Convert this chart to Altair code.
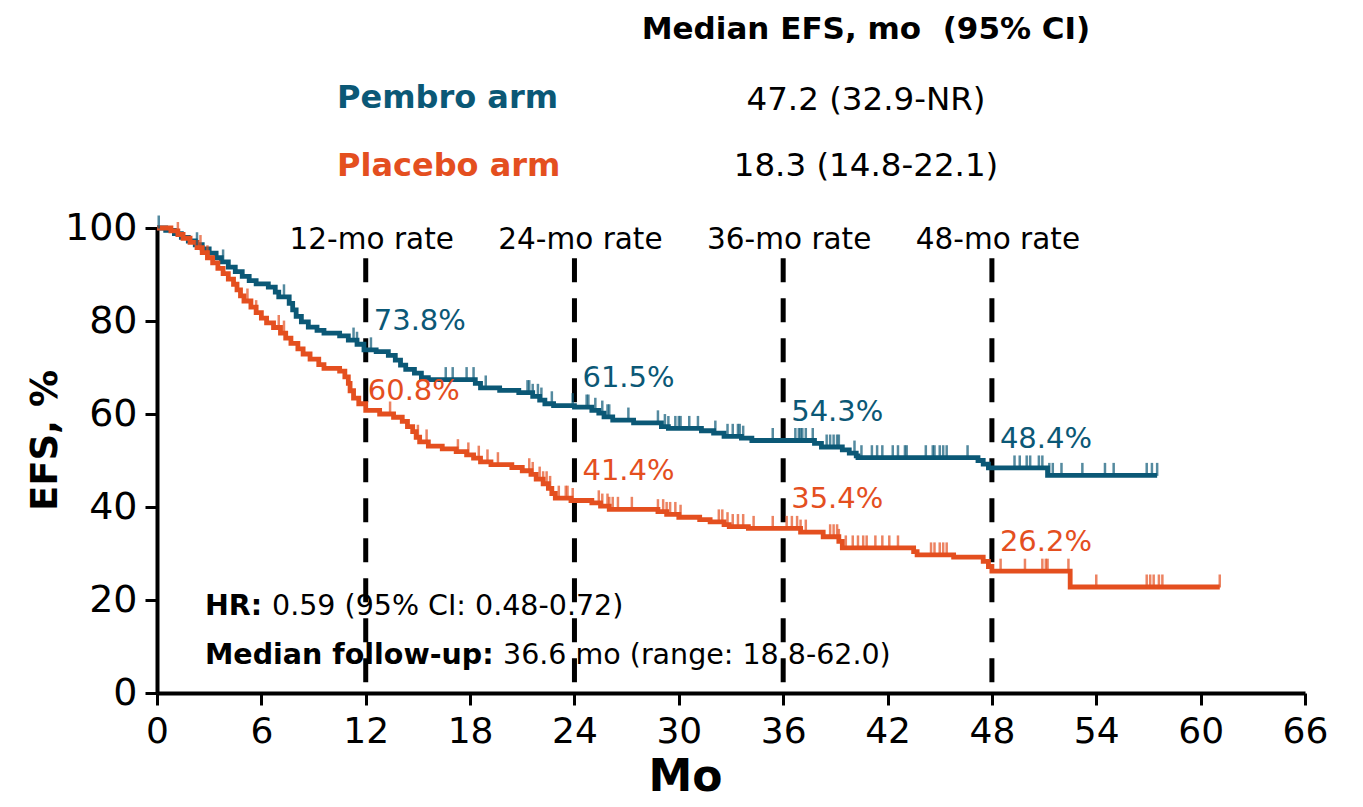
import bisect
import altair as alt
import pandas as pd

# ---------------- data ----------------
pembro_time = [0, 0.5, 1.0, 1.4, 1.8, 2.2, 2.6, 3.0, 3.4, 3.7, 4.1, 4.5, 4.9, 5.3, 5.7,
               6.4, 6.8, 7.0, 7.6, 7.8, 8.0, 8.3, 8.7, 9.2, 9.6, 10.5, 11.0, 11.5, 11.9, 12.6,
               13.3, 13.7, 14.0, 14.3, 14.8, 15.2, 15.6, 18.3, 18.6, 19.7, 20.8, 21.6, 22.0, 22.3, 22.8,
               24.0, 25.0, 25.4, 25.7, 26.2, 27.4, 29.0, 29.4, 31.3, 32.0, 32.6, 33.6, 34.2, 37.8, 38.2,
               39.4, 39.8, 40.2, 40.3, 47.2, 47.5, 47.8, 51.2]
pembro_surv = [100, 99.5, 98.8, 98.0, 97.2, 96.4, 95.5, 94.6, 93.6, 92.7, 91.6, 90.6, 89.6, 88.7, 88.0,
               87.3, 86.2, 85.2, 83.8, 82.4, 81.0, 79.8, 78.7, 78.0, 77.4, 76.8, 75.9, 75.0, 73.8, 73.4,
               72.6, 71.6, 70.5, 69.6, 68.8, 67.8, 67.4, 66.6, 65.6, 65.1, 64.6, 63.8, 63.0, 62.2, 61.8,
               61.5, 60.8, 60.2, 59.4, 58.7, 58.1, 57.3, 56.9, 56.4, 55.9, 55.2, 54.8, 54.3, 53.7, 52.9,
               52.3, 51.6, 51.0, 50.6, 50.0, 49.2, 48.4, 46.8]
pembro_end = 57.5
pembro_censor = [0.1, 2.3, 3.8, 7.3, 11.3, 11.5, 12.3, 16.6, 17.0, 17.8, 18.2, 18.9, 21.3, 21.4, 21.6,
                 21.9, 22.1, 22.7, 23.9, 24.7, 24.8, 25.2, 25.6, 25.9, 26.0, 27.1, 28.8, 29.2, 29.4, 29.8,
                 30.0, 30.1, 30.6, 31.1, 32.1, 32.8, 33.1, 33.4, 33.5, 33.7, 35.4, 36.7, 36.9, 37.0, 37.1,
                 37.3, 37.7, 38.5, 38.7, 38.9, 39.1, 39.2, 40.1, 40.5, 41.1, 41.4, 41.7, 42.3, 42.6, 43.0,
                 43.1, 44.2, 44.6, 44.7, 45.0, 45.2, 45.4, 46.6, 49.3, 49.6, 50.0, 50.2, 50.7, 50.9, 51.3,
                 51.5, 52.0, 53.2, 54.5, 55.0, 56.9, 57.2, 57.5]

placebo_time = [0, 0.8, 1.2, 1.5, 1.9, 2.3, 2.6, 2.9, 3.2, 3.5, 3.8, 4.1, 4.4, 4.6, 4.8,
                5.0, 5.4, 5.7, 6.0, 6.3, 6.7, 7.1, 7.4, 7.7, 8.1, 8.4, 8.8, 9.3, 9.6, 10.5,
                10.8, 11.0, 11.1, 11.3, 11.6, 12.0, 12.8, 13.6, 14.1, 14.4, 14.7, 14.9, 15.1, 15.6, 16.4,
                17.2, 17.8, 18.2, 18.6, 19.2, 20.4, 21.0, 21.5, 21.8, 22.2, 22.5, 22.7, 22.9, 23.8, 25.0,
                25.5, 26.0, 28.8, 29.3, 30.0, 31.2, 31.8, 32.6, 32.9, 34.0, 37.0, 38.3, 39.2, 39.4, 43.5,
                43.7, 45.8, 47.5, 47.8, 48.0, 52.5]
placebo_surv = [100, 99.4, 98.6, 97.8, 96.9, 95.8, 94.7, 93.6, 92.5, 91.3, 90.2, 89.0, 87.9, 86.7, 85.4,
                84.3, 83.0, 81.8, 80.6, 79.6, 78.6, 77.4, 76.3, 75.2, 74.0, 72.9, 71.8, 70.6, 69.8, 69.2,
                68.0, 66.6, 65.0, 63.4, 62.2, 60.8, 60.0, 59.3, 58.4, 57.3, 56.2, 55.0, 54.0, 53.1, 52.5,
                51.9, 51.2, 50.5, 49.7, 49.1, 48.5, 47.8, 47.0, 46.0, 45.0, 44.0, 42.9, 41.9, 41.4, 40.9,
                40.2, 39.5, 39.0, 38.4, 37.8, 37.3, 36.8, 36.2, 35.8, 35.4, 34.6, 33.6, 32.6, 31.2, 30.4,
                29.7, 29.2, 28.3, 27.2, 26.2, 22.8]
placebo_end = 61.1
placebo_censor = [1.2, 2.5, 2.9, 5.2, 5.7, 7.0, 7.3, 13.4, 15.0, 15.5, 17.3, 17.9, 18.5, 19.0, 19.6,
                  21.4, 21.6, 22.0, 22.2, 22.4, 22.6, 23.1, 23.5, 23.6, 23.9, 25.4, 25.6, 25.9, 26.0, 26.2,
                  26.5, 27.3, 28.8, 29.1, 29.3, 29.5, 29.8, 30.1, 32.3, 32.5, 32.8, 33.1, 33.4, 33.7, 34.3,
                  35.4, 36.2, 36.5, 36.8, 37.0, 37.3, 38.7, 38.9, 39.1, 39.2, 39.6, 40.0, 40.3, 40.6, 40.8,
                  41.3, 41.7, 42.1, 42.6, 44.5, 44.7, 45.0, 45.2, 45.4, 48.5, 49.9, 50.9, 51.1, 51.2, 52.4,
                  54.0, 56.9, 57.1, 57.3, 57.6, 57.8, 61.1]

arms = ["Pembro arm", "Placebo arm"]
arm_colors = ["#0b5876", "#e44f1f"]

rate_months = [12, 24, 36, 48]
pembro_rates = [73.8, 61.5, 54.3, 48.4]
placebo_rates = [60.8, 41.4, 35.4, 26.2]

x_ticks = [0, 6, 12, 18, 24, 30, 36, 42, 48, 54, 60, 66]
y_ticks = [0, 20, 40, 60, 80, 100]

FONT = "DejaVu Sans"
W, H = 1148, 465

# ---------------- tables ----------------
def step_value(times, surv, t):
    i = bisect.bisect_right(times, t) - 1
    return surv[max(i, 0)]

rows = []
for arm, ts, ss, end in [(arms[0], pembro_time, pembro_surv, pembro_end),
                         (arms[1], placebo_time, placebo_surv, placebo_end)]:
    for t, s in zip(ts, ss):
        rows.append({"arm": arm, "t": t, "s": s})
    rows.append({"arm": arm, "t": end, "s": ss[-1]})
curve = pd.DataFrame(rows)

crow = []
for arm, ts, ss, cens in [(arms[0], pembro_time, pembro_surv, pembro_censor),
                          (arms[1], placebo_time, placebo_surv, placebo_censor)]:
    for c in cens:
        crow.append({"arm": arm, "t": c, "s": step_value(ts, ss, c)})
censor = pd.DataFrame(crow)

rates = pd.DataFrame({
    "arm": [arms[0]] * 4 + [arms[1]] * 4,
    "t": rate_months * 2,
    "rate": pembro_rates + placebo_rates,
})
rates["label"] = rates["rate"].map(lambda v: f"{v:.1f}%")

marks = pd.DataFrame({"t": rate_months, "label": [f"{m}-mo rate" for m in rate_months]})

xs = alt.Scale(domain=[0, 66], nice=False, zero=False)
ys = alt.Scale(domain=[0, 100], nice=False)
cs = alt.Scale(domain=arms, range=arm_colors)

x_axis = alt.Axis(values=x_ticks, title="Mo", grid=False, tickSize=12, tickWidth=3,
                  domainWidth=4, domainColor="black", tickColor="black",
                  labelFontSize=36, labelFont=FONT, labelColor="black", labelPadding=9,
                  labelFlush=False, titleFontSize=44, titleFont=FONT, titleFontWeight="bold",
                  titleColor="black", titleX=528, titleY=84, titleBaseline="middle",
                  titleAlign="center")
y_axis = alt.Axis(values=y_ticks, title="EFS, %", grid=False, tickSize=12, tickWidth=3,
                  domainWidth=4, domainColor="black", tickColor="black",
                  labelFontSize=38, labelFont=FONT, labelColor="black", labelPadding=8,
                  labelFlush=False, titleFontSize=37, titleFont=FONT, titleFontWeight="bold",
                  titleColor="black", titleX=-112, titleY=212, titleBaseline="middle",
                  titleAlign="center", titleAngle=270)

dashes = alt.Chart(marks).transform_calculate(top="93.5", bottom="0").mark_rule(
    color="black", strokeWidth=5, strokeDash=[24, 16]
).encode(x=alt.X("t:Q", scale=xs, axis=x_axis),
         y=alt.Y("top:Q", scale=ys, axis=y_axis), y2="bottom:Q")

lines = alt.Chart(curve).mark_line(interpolate="step-after", strokeWidth=4.8).encode(
    x=alt.X("t:Q", scale=xs),
    y=alt.Y("s:Q", scale=ys),
    color=alt.Color("arm:N", scale=cs, legend=None),
    detail="arm:N",
)

ticks = alt.Chart(censor).mark_tick(orient="vertical", size=13, thickness=2.5, yOffset=-6).encode(
    x=alt.X("t:Q", scale=xs),
    y=alt.Y("s:Q", scale=ys),
    color=alt.Color("arm:N", scale=cs, legend=None),
)

rate_main = alt.Chart(rates).transform_filter(
    "!(datum.arm == 'Placebo arm' && datum.t == 12)"
).mark_text(align="left", baseline="middle", dx=8, dy=-29, fontSize=29, font=FONT).encode(
    x=alt.X("t:Q", scale=xs), y=alt.Y("rate:Q", scale=ys), text="label:N",
    color=alt.Color("arm:N", scale=cs, legend=None),
)
rate_p12 = alt.Chart(rates).transform_filter(
    "datum.arm == 'Placebo arm' && datum.t == 12"
).mark_text(align="left", baseline="middle", dx=2, dy=-19, fontSize=29, font=FONT).encode(
    x=alt.X("t:Q", scale=xs), y=alt.Y("rate:Q", scale=ys), text="label:N",
    color=alt.Color("arm:N", scale=cs, legend=None),
)

mark_labels = alt.Chart(marks).mark_text(
    align="center", baseline="middle", dx=6, fontSize=29.5, font=FONT, color="black"
).encode(x=alt.X("t:Q", scale=xs), y=alt.value(12), text="label:N")

one = pd.DataFrame({"k": [0]})

def note(text, px, py, size, weight="normal", color="black", align="left"):
    return alt.Chart(one).mark_text(
        align=align, baseline="middle", fontSize=size, fontWeight=weight, font=FONT, color=color
    ).encode(x=alt.value(px), y=alt.value(py), text=alt.value(text))

notes = [
    note("Median EFS, mo\u00a0 (95% CI)", 709, -198, 31, "bold", align="center"),
    note("Pembro arm", 180, -130, 32, "bold", arm_colors[0]),
    note("47.2 (32.9-NR)", 709, -128, 32.5, align="center"),
    note("Placebo arm", 180, -62, 32, "bold", arm_colors[1]),
    note("18.3 (14.8-22.1)", 709, -62, 32.5, align="center"),
    note("HR:", 48, 378, 28.5, "bold"),
    note("0.59 (95% CI: 0.48-0.72)", 115, 378, 28.5),
    note("Median follow-up:", 48, 427, 28.5, "bold"),
    note("36.6 mo (range: 18.8-62.0)", 346, 427, 28.5),
]

chart = alt.layer(dashes, lines, ticks, rate_main, rate_p12, mark_labels, *notes).properties(
    width=W, height=H,
    autosize=alt.AutoSizeParams(type="none"),
    padding={"left": 157, "top": 228, "right": 58, "bottom": 114},
    background="white",
).configure_view(stroke="transparent")

chart.save("out.html", embed_options={"renderer": "svg", "actions": False})
